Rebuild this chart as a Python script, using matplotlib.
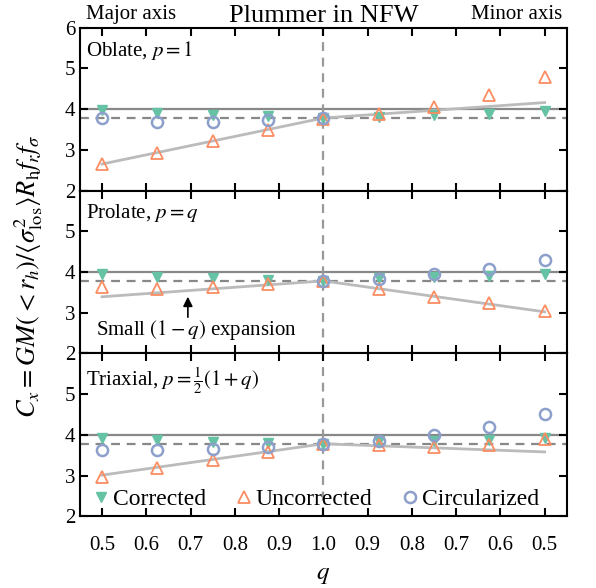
import numpy as np
import matplotlib
matplotlib.use("Agg")
import matplotlib.pyplot as plt

plt.rcParams['font.family'] = ['Liberation Serif', 'DejaVu Serif']
plt.rcParams['mathtext.fontset'] = 'stix'

# x positions: left half is q along major axis, right half is 2-q (minor axis)
q_left = [0.5, 0.625, 0.75, 0.875, 1.0]
q_right = [0.875, 0.75, 0.625, 0.5]
tick_vals = [0.5, 0.6, 0.7, 0.8, 0.9, 1.0, 0.9, 0.8, 0.7, 0.6, 0.5]

panel_labels = ["Oblate, $p=1$", "Prolate, $p=q$", r"Triaxial, $p=\frac{1}{2}(1+q)$"]

corrected = [
    [3.97, 3.90, 3.85, 3.82, 3.78, 3.81, 3.86, 3.89, 3.95],
    [3.96, 3.88, 3.84, 3.80, 3.78, 3.84, 3.88, 3.89, 3.96],
    [3.93, 3.88, 3.82, 3.80, 3.78, 3.85, 3.85, 3.88, 3.93],
]
uncorrected = [
    [2.64, 2.93, 3.21, 3.48, 3.76, 3.87, 4.05, 4.34, 4.78],
    [3.62, 3.59, 3.63, 3.70, 3.78, 3.57, 3.39, 3.23, 3.04],
    [2.96, 3.18, 3.37, 3.58, 3.77, 3.74, 3.70, 3.76, 3.90],
]
circularized = [
    [3.77, 3.68, 3.68, 3.72, 3.78, np.nan, np.nan, np.nan, np.nan],
    [np.nan, np.nan, np.nan, np.nan, 3.78, 3.82, 3.94, 4.07, 4.30],
    [3.63, 3.62, 3.65, 3.70, 3.77, 3.86, 4.00, 4.19, 4.50],
]
# small (1-q) expansion: values at q=0.5 (major), q=1, q=0.5 (minor)
expansion = [
    [2.65, 3.78, 4.16],
    [3.39, 3.78, 3.02],
    [3.01, 3.78, 3.58],
]
c_exact = 4.0
c_round = 3.78

green = '#66c2a5'
orange = '#fc8d62'
blue = '#8da0cb'

x = np.array(q_left + [2 - v for v in q_right])
x_exp = [0.5, 1.0, 1.5]

fig, axes = plt.subplots(3, 1, figsize=(5.96, 5.88), dpi=100, sharex=True)
fig.subplots_adjust(left=0.134, right=0.951, top=0.953, bottom=0.122, hspace=0)

for i, ax in enumerate(axes):
    ax.axhline(c_exact, color='#888888', lw=1.6, zorder=1)
    ax.axhline(c_round, color='#888888', lw=1.6, ls=(0, (4, 3)), zorder=1)
    ax.axvline(1.0, color='#999999', lw=1.6, ls=(0, (4, 3)), zorder=1)
    ax.plot(x_exp, expansion[i], color='#bbbbbb', lw=2, zorder=2)
    ax.plot(x, corrected[i], 'v', color=green, ms=7, ls='none', zorder=3, label='Corrected')
    ax.plot(x, uncorrected[i], '^', mfc='none', mec=orange, mew=1.3, ms=8.5, ls='none',
            zorder=4, label='Uncorrected')
    ax.plot(x, circularized[i], 'o', mfc='none', mec=blue, mew=1.8, ms=8, ls='none',
            zorder=5, label='Circularized')
    ax.set_ylim(2, 6)
    ax.set_yticks([2, 3, 4, 5, 6])
    if i > 0:
        ax.set_yticklabels(['2', '3', '4', '5', ''])
    ax.text(0.012, 0.93, panel_labels[i], transform=ax.transAxes, fontsize=15,
            ha='left', va='top')
    ax.tick_params(direction='in', top=True, right=True, length=6, width=1.5,
                   labelsize=15)
    for s in ax.spines.values():
        s.set_linewidth(1.5)

ax = axes[-1]
ax.set_xlim(0.45, 1.55)
ax.set_xticks(np.arange(0.5, 1.51, 0.1))
ax.set_xticklabels(["%.1f" % v for v in tick_vals])
ax.tick_params(axis='x', pad=14)
ax.set_xlabel('$q$', fontsize=18, labelpad=7)

axes[-1].legend(loc='lower left', ncol=3, frameon=False, fontsize=17,
                handlelength=0.8, handletextpad=0.1, columnspacing=1.2,
                borderaxespad=0.1, bbox_to_anchor=(0.0, -0.035))

axes[1].annotate('', xy=(0.694, 3.46), xytext=(0.694, 2.82),
                 arrowprops=dict(arrowstyle='-|>', color='black', lw=1.2,
                                 mutation_scale=14))
axes[1].text(0.487, 2.57, r'Small $(1-q)$ expansion', fontsize=15, va='center')

axes[0].set_title('Plummer in NFW', fontsize=19, pad=4)
axes[0].text(0.012, 1.02, 'Major axis', transform=axes[0].transAxes, fontsize=15,
             ha='left', va='bottom')
axes[0].text(0.99, 1.02, 'Minor axis', transform=axes[0].transAxes, fontsize=15,
             ha='right', va='bottom')

fig.text(0.048, 0.53, r'$C_x = GM(<r_h)/\langle\sigma^2_{\rm los}\rangle R_{\rm h} f_r f_\sigma$',
         rotation=90, fontsize=19, ha='center', va='center')

fig.savefig('out.png', dpi=100)
